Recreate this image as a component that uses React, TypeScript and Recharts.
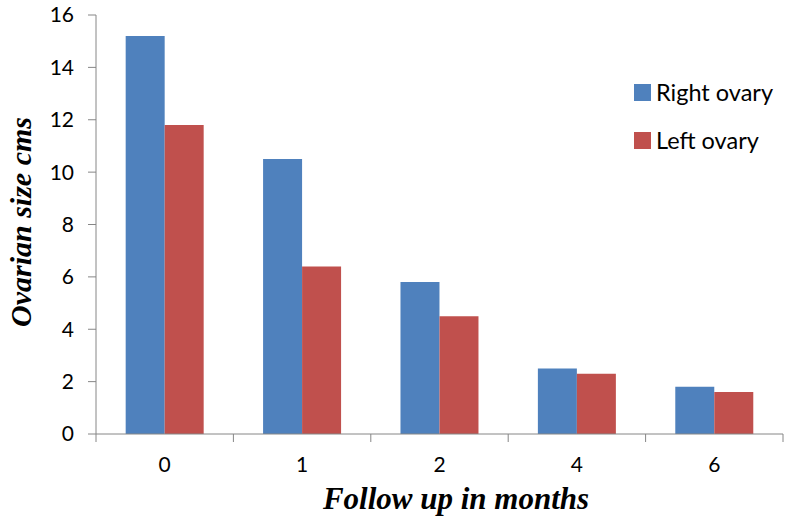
import {Bar, BarChart, Label, XAxis, YAxis} from 'recharts';

const months = ['0', '1', '2', '4', '6'];
const rightOvary = [15.2, 10.5, 5.8, 2.5, 1.8];
const leftOvary = [11.8, 6.4, 4.5, 2.3, 1.6];
const yTicks = [0, 2, 4, 6, 8, 10, 12, 14, 16];

const series = [
  {key: 'right', name: 'Right ovary', color: '#4F81BD'},
  {key: 'left', name: 'Left ovary', color: '#C0504D'},
];

const data = months.map((m, i) => ({
  month: m,
  right: rightOvary[i],
  left: leftOvary[i],
}));

const axisColor = '#868686';
const tickFont = 'Lato, "Open Sans", sans-serif';
const titleFont = '"Liberation Serif", serif';

// Excel-style x ticks: marks sit between categories, labels in the middle
function MonthTick(props: any) {
  const {x, y, payload, index, visibleTicksCount} = props;
  const half = payload?.offset ?? 68.7;
  const last = index === (visibleTicksCount ?? months.length) - 1;
  return (
    <g>
      <line x1={x - half} x2={x - half} y1={y - 8} y2={y} stroke={axisColor} />
      {last && (
        <line x1={x + half} x2={x + half} y1={y - 8} y2={y} stroke={axisColor} />
      )}
      <text
        x={x}
        y={y + 30}
        textAnchor="middle"
        fontFamily={tickFont}
        fontSize={21}
        fill="#000"
      >
        {payload.value}
      </text>
    </g>
  );
}

function LegendBox() {
  return (
    <div
      style={{
        position: 'absolute',
        left: 634,
        top: 79,
        display: 'flex',
        flexDirection: 'column',
        gap: 22,
      }}
    >
      {series.map((s) => (
        <div key={s.key} style={{display: 'flex', alignItems: 'center', gap: 5}}>
          <div style={{width: 17, height: 17, backgroundColor: s.color}} />
          <span style={{fontFamily: tickFont, fontSize: 23.5, color: '#000', lineHeight: '26px'}}>
            {s.name}
          </span>
        </div>
      ))}
    </div>
  );
}

export default function App() {
  return (
    <div style={{position: 'absolute', left: 0, top: 0, width: 786, height: 523, background: '#fff'}}>
      <BarChart
        width={786}
        height={523}
        data={data}
        margin={{top: 15, right: 3, bottom: 59, left: 0}}
        barCategoryGap="21.6%"
        barGap={0}
      >
        <XAxis
          dataKey="month"
          stroke={axisColor}
          tickLine={false}
          tick={<MonthTick />}
          interval={0}
        >
          <Label
            content={() => (
              <text
                x={456}
                y={509}
                textAnchor="middle"
                fontFamily={titleFont}
                fontWeight="bold"
                fontStyle="italic"
                fontSize={31}
                fill="#000"
              >
                Follow up in months
              </text>
            )}
          />
        </XAxis>
        <YAxis
          width={96}
          domain={[0, 16]}
          ticks={yTicks}
          interval={0}
          stroke={axisColor}
          tickSize={8}
          tickMargin={14}
          tick={{fill: '#000', fontSize: 21, fontFamily: tickFont}}
        >
          <Label
            content={() => (
              <text
                x={31}
                y={222}
                transform="rotate(-90 31 222)"
                textAnchor="middle"
                fontFamily={titleFont}
                fontWeight="bold"
                fontStyle="italic"
                fontSize={30}
                fill="#000"
              >
                Ovarian size cms
              </text>
            )}
          />
        </YAxis>
        {series.map((s) => (
          <Bar
            key={s.key}
            dataKey={s.key}
            name={s.name}
            fill={s.color}
            isAnimationActive={false}
          />
        ))}
      </BarChart>
      <LegendBox />
    </div>
  );
}
